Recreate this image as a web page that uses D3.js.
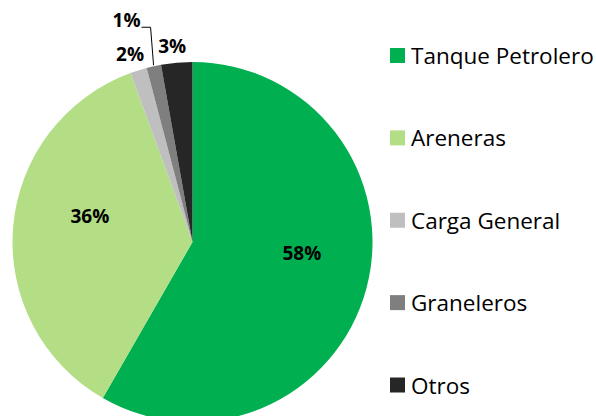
<!DOCTYPE html>
<html>
<head>
<meta charset="utf-8">
<script src="https://cdn.jsdelivr.net/npm/d3@7"></script>
<style>
  body { margin: 0; background: #fff; }
  svg { display: block; }
  .pct { font-family: "Open Sans", sans-serif; font-weight: bold; font-size: 19px; fill: #000; }
  .legend text { font-family: "Open Sans", sans-serif; font-size: 22.5px; fill: #000; }
</style>
</head>
<body>
<svg id="chart" width="596" height="416"></svg>
<script>
// data
var categories = ["Tanque Petrolero", "Areneras", "Carga General", "Graneleros", "Otros"];
var shares = [58.3, 36.1, 1.5, 1.3, 2.8];
var colors = ["#00B050", "#B4DE86", "#BFBFBF", "#7F7F7F", "#262626"];
// which labels go inside, outside, or outside with a leader line
var labelMode = ["in", "in", "out", "leader", "out"];

var width = 596, height = 416;
var cx = 192.5, cy = 242, radius = 180;

var svg = d3.select("#chart");

var pie = d3.pie().sort(null).value(function(d) { return d; });
var arc = d3.arc().innerRadius(0).outerRadius(radius);
var arcs = pie(shares);

var g = svg.append("g").attr("transform", "translate(" + cx + "," + cy + ")");

g.selectAll("path")
    .data(arcs)
    .enter().append("path")
    .attr("d", arc)
    .style("fill", function(d, i) { return colors[i]; });

// point at radius r along the middle of a slice
function pointAt(d, r) {
    var a = (d.startAngle + d.endAngle) / 2;
    return [Math.sin(a) * r, -Math.cos(a) * r];
}

arcs.forEach(function(d, i) {
    var txt = Math.round(d.data) + "%";
    var mode = labelMode[i];
    var p;
    if (mode === "in") {
        p = pointAt(d, radius * 0.6);
        g.append("text").attr("class", "pct")
            .attr("x", p[0] + 5).attr("y", p[1] - 17)
            .attr("text-anchor", "middle")
            .attr("dominant-baseline", "central")
            .text(txt);
    } else if (mode === "out") {
        p = pointAt(d, radius + 18);
        g.append("text").attr("class", "pct")
            .attr("x", p[0] - 3).attr("y", p[1] + 1)
            .attr("text-anchor", "middle")
            .attr("dominant-baseline", "central")
            .text(txt);
    } else {
        // small slice: label pulled up with an elbow leader line
        var p0 = pointAt(d, radius + 1);
        var elbow = [p0[0] - 3, p0[1] - 38];
        var end = [elbow[0] - 9, elbow[1]];
        g.append("polyline")
            .attr("points", [p0, elbow, end].map(function(q) { return q.join(","); }).join(" "))
            .style("fill", "none")
            .style("stroke", "#000")
            .style("stroke-width", 1);
        g.append("text").attr("class", "pct")
            .attr("x", end[0] - 1).attr("y", end[1] - 7)
            .attr("text-anchor", "end")
            .attr("dominant-baseline", "central")
            .text(txt);
    }
});

// legend
var legendY = d3.scalePoint()
    .domain(categories)
    .range([55.5, 385]);

var legend = svg.append("g").attr("class", "legend")
    .selectAll("g")
    .data(categories)
    .enter().append("g")
    .attr("transform", function(d) { return "translate(390," + legendY(d) + ")"; });

legend.append("rect")
    .attr("x", 0).attr("y", -7.5)
    .attr("width", 15).attr("height", 15)
    .style("fill", function(d, i) { return colors[i]; });

legend.append("text")
    .attr("x", 21).attr("y", 0)
    .attr("dominant-baseline", "central")
    .text(function(d) { return d; });
</script>
</body>
</html>
